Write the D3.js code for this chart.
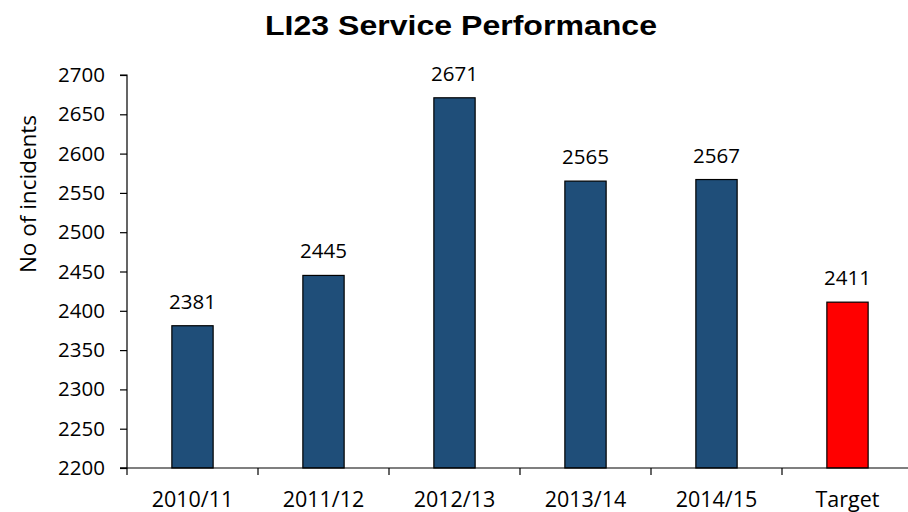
<!DOCTYPE html>
<html>
<head>
<meta charset="utf-8">
<script src="https://cdn.jsdelivr.net/npm/d3@7/dist/d3.min.js"></script>
<style>
  html, body { margin: 0; padding: 0; background: #fff; }
  svg { display: block; }
</style>
</head>
<body>
<svg id="chart" width="908" height="512"></svg>
<script>
const categories = ["2010/11", "2011/12", "2012/13", "2013/14", "2014/15", "Target"];
const values = [2381, 2445, 2671, 2565, 2567, 2411];
const colors = ["#1f4e79", "#1f4e79", "#1f4e79", "#1f4e79", "#1f4e79", "#ff0000"];
const yTicks = [2200, 2250, 2300, 2350, 2400, 2450, 2500, 2550, 2600, 2650, 2700];
const title = "LI23 Service Performance";
const yLabel = "No of incidents";

const svg = d3.select("#chart");
const plotLeft = 127, plotTop = 75, plotBottom = 468;
const step = 131;
const font = "'Open Sans', 'Liberation Sans', sans-serif";

const x = d3.scaleBand().domain(categories).range([plotLeft, plotLeft + step * categories.length]).padding(0);
const y = d3.scaleLinear().domain([2200, 2700]).range([plotBottom, plotTop]);

const data = categories.map((c, i) => ({ c, v: values[i], color: colors[i] }));
const barW = x.bandwidth() * 0.315;

// bars
svg.append("g").selectAll("rect").data(data).join("rect")
  .attr("x", d => x(d.c) + (x.bandwidth() - barW) / 2)
  .attr("y", d => y(d.v))
  .attr("width", barW)
  .attr("height", d => y(2200) - y(d.v))
  .attr("fill", d => d.color)
  .attr("stroke", "#000")
  .attr("stroke-width", 1.2);

// value labels
svg.append("g").selectAll("text").data(data).join("text")
  .attr("x", d => x(d.c) + x.bandwidth() / 2)
  .attr("y", d => y(d.v) - 17)
  .attr("text-anchor", "middle")
  .attr("font-family", font)
  .attr("font-size", 20.5)
  .attr("fill", "#000")
  .text(d => d.v);

// y axis
const yAxis = d3.axisLeft(y).tickValues(yTicks).tickSize(7).tickPadding(15).tickFormat(d3.format("d"));
const gy = svg.append("g").attr("transform", `translate(${plotLeft},0)`).call(yAxis);
gy.select(".domain").attr("stroke", "#000").attr("stroke-width", 1.2).attr("d", `M-7,${plotTop}H0V${plotBottom}H-7`);
gy.selectAll(".tick line").attr("stroke", "#000").attr("stroke-width", 1.2);
gy.selectAll(".tick text").attr("font-family", font).attr("font-size", 20.5).attr("fill", "#000");

// x axis
const gx = svg.append("g").attr("transform", `translate(0,${plotBottom})`);
gx.append("line").attr("x1", plotLeft - 7).attr("x2", plotLeft + step * categories.length)
  .attr("y1", 0).attr("y2", 0).attr("stroke", "#000").attr("stroke-width", 1.2);
const boundaries = categories.map(c => x(c)).concat([x(categories[categories.length - 1]) + x.bandwidth()]);
gx.selectAll("line.tk").data(boundaries).join("line").attr("class", "tk")
  .attr("x1", d => d).attr("x2", d => d).attr("y1", 0).attr("y2", 7)
  .attr("stroke", "#000").attr("stroke-width", 1.2);
gx.selectAll("text").data(categories).join("text")
  .attr("x", d => x(d) + x.bandwidth() / 2)
  .attr("y", 39)
  .attr("text-anchor", "middle")
  .attr("font-family", font)
  .attr("font-size", 21.5)
  .attr("fill", "#000")
  .text(d => d);

// title
svg.append("text")
  .attr("x", 461).attr("y", 35)
  .attr("text-anchor", "middle")
  .attr("font-family", "'Liberation Sans', Arial, sans-serif")
  .attr("font-weight", "bold")
  .attr("font-size", 28)
  .attr("textLength", 392)
  .attr("lengthAdjust", "spacingAndGlyphs")
  .attr("fill", "#000")
  .text(title);

// y label
svg.append("text")
  .attr("transform", "translate(36,194) rotate(-90)")
  .attr("text-anchor", "middle")
  .attr("font-family", font)
  .attr("font-size", 22.5)
  .attr("fill", "#000")
  .text(yLabel);
</script>
</body>
</html>
